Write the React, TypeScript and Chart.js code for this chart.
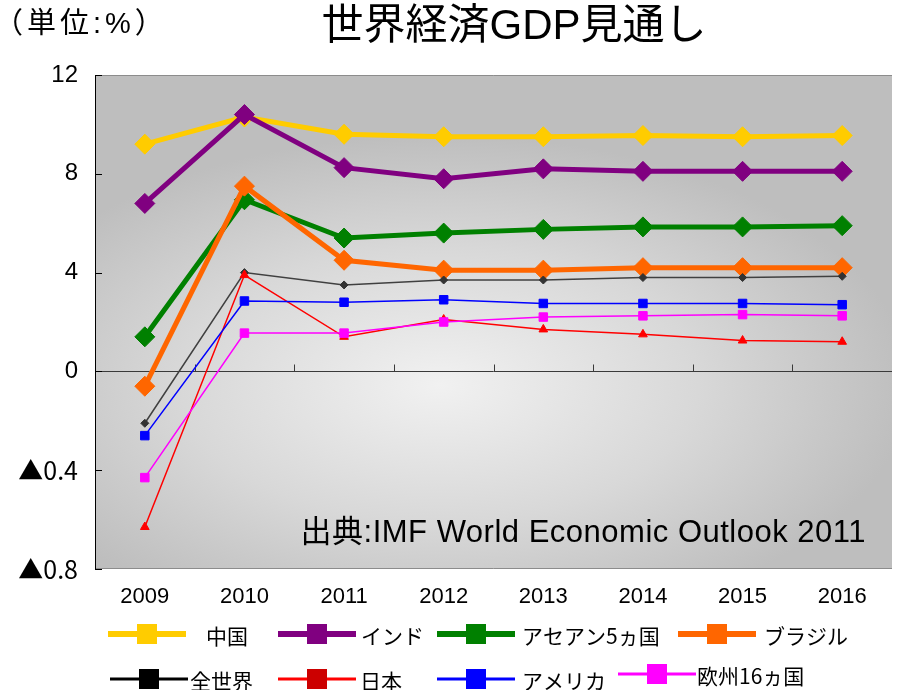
import React, { useEffect, useRef } from "react";
import { Chart, registerables } from "chart.js";

Chart.register(...registerables);

const years = ["2009", "2010", "2011", "2012", "2013", "2014", "2015", "2016"];
const china = [9.2, 10.3, 9.6, 9.5, 9.5, 9.55, 9.5, 9.55];
const india = [6.8, 10.4, 8.25, 7.8, 8.2, 8.1, 8.1, 8.1];
const asean5 = [1.4, 6.95, 5.4, 5.6, 5.75, 5.85, 5.85, 5.9];
const brazil = [-0.6, 7.5, 4.5, 4.1, 4.1, 4.2, 4.2, 4.2];
const world = [-2.1, 4.0, 3.5, 3.7, 3.7, 3.8, 3.8, 3.85];
const japan = [-6.3, 3.9, 1.4, 2.1, 1.7, 1.5, 1.25, 1.2];
const usa = [-2.6, 2.85, 2.8, 2.9, 2.75, 2.75, 2.75, 2.7];
const europe16 = [-4.3, 1.55, 1.55, 2.0, 2.2, 2.25, 2.3, 2.25];

const yTickValues = [-8, -4, 0, 4, 8, 12];
const yTickLabels = ["▲0.8", "▲0.4", "0", "4", "8", "12"];

const seriesNames = ["中国", "インド", "アセアン5ヵ国", "ブラジル", "全世界", "日本", "アメリカ", "欧州16ヵ国"];
const titleText = "世界経済GDP見通し";
const unitText = "（単位:%）";
const sourceText = "出典:IMF World Economic Outlook 2011";

const LATIN = "'Liberation Sans', 'Noto Sans CJK JP', sans-serif";
const JP = "'Noto Sans CJK JP', 'Liberation Sans', sans-serif";

type Style = {
  color: string;
  pointColor: string;
  legendSquare: string;
  legendLine: string;
  width: number;
  legendWidth: number;
  pointStyle: string;
  radius: number;
};

const styles: Style[] = [
  { color: "#FFCC00", pointColor: "#FFCC00", legendSquare: "#FFCC00", legendLine: "#FFCC00", width: 5, legendWidth: 6, pointStyle: "rectRot", radius: 10 },
  { color: "#800080", pointColor: "#800080", legendSquare: "#800080", legendLine: "#800080", width: 5, legendWidth: 6, pointStyle: "rectRot", radius: 10 },
  { color: "#008000", pointColor: "#008000", legendSquare: "#008000", legendLine: "#008000", width: 5, legendWidth: 6, pointStyle: "rectRot", radius: 10 },
  { color: "#FF6600", pointColor: "#FF6600", legendSquare: "#FF6600", legendLine: "#FF6600", width: 5, legendWidth: 6, pointStyle: "rectRot", radius: 10 },
  { color: "#404040", pointColor: "#333333", legendSquare: "#000000", legendLine: "#000000", width: 1.5, legendWidth: 3, pointStyle: "rectRot", radius: 4 },
  { color: "#FF0000", pointColor: "#FF0000", legendSquare: "#CC0000", legendLine: "#FF0000", width: 1.5, legendWidth: 3, pointStyle: "triangle", radius: 5 },
  { color: "#0000FF", pointColor: "#0000FF", legendSquare: "#0000FF", legendLine: "#0000FF", width: 1.5, legendWidth: 3, pointStyle: "rect", radius: 6 },
  { color: "#FF00FF", pointColor: "#FF00FF", legendSquare: "#FF00FF", legendLine: "#FF00FF", width: 1.5, legendWidth: 3, pointStyle: "rect", radius: 6 },
];

// legend layout: line start x, text x, y centre
const legendLayout = [
  { lx: 108, tx: 206, y: 634 },
  { lx: 278, tx: 361, y: 634 },
  { lx: 437, tx: 522, y: 634 },
  { lx: 678, tx: 764, y: 634 },
  { lx: 110, tx: 190, y: 679 },
  { lx: 278, tx: 360, y: 679 },
  { lx: 437, tx: 522, y: 679 },
  { lx: 618, tx: 697, y: 674 },
];

const setSpacing = (ctx: any, v: string) => {
  try { ctx.letterSpacing = v; } catch (e) { /* ignore */ }
};

const decorPlugin = {
  id: "decor",
  beforeDraw(chart: any) {
    const { ctx, chartArea: a } = chart;
    ctx.save();
    const cx = 440, cy = 385;
    const rx = 470, ry = 250;
    ctx.beginPath();
    ctx.rect(a.left, a.top, a.right - a.left, a.bottom - a.top);
    ctx.clip();
    ctx.translate(cx, cy);
    ctx.scale(1, ry / rx);
    const g = ctx.createRadialGradient(0, 0, 0, 0, 0, rx);
    g.addColorStop(0, "#f1f1f1");
    g.addColorStop(0.55, "#d8d8d8");
    g.addColorStop(1, "#bebebe");
    ctx.fillStyle = g;
    ctx.fillRect(-cx - 10, -cy * (rx / ry) - 10, 2000, 4000);
    ctx.restore();
  },
  beforeDatasetsDraw(chart: any) {
    const { ctx, chartArea: a, scales } = chart;
    const x = scales.x, y = scales.y;
    ctx.save();
    ctx.strokeStyle = "#8c8c8c";
    ctx.lineWidth = 1;
    ctx.beginPath();
    ctx.moveTo(a.left, a.top + 0.5);
    ctx.lineTo(a.right, a.top + 0.5);
    ctx.moveTo(a.left, a.bottom - 0.5);
    ctx.lineTo(a.right, a.bottom - 0.5);
    ctx.stroke();
    const y0 = Math.round(y.getPixelForValue(0)) + 0.5;
    ctx.strokeStyle = "#3a3a3a";
    ctx.beginPath();
    ctx.moveTo(a.left, y0);
    ctx.lineTo(a.right, y0);
    for (let i = 1; i < years.length; i++) {
      const px = Math.round(x.getPixelForValue(i - 0.5)) + 0.5;
      ctx.moveTo(px, y0);
      ctx.lineTo(px, y0 - 7);
    }
    ctx.stroke();
    ctx.strokeStyle = "#000";
    ctx.beginPath();
    ctx.moveTo(a.left + 0.5, a.top);
    ctx.lineTo(a.left + 0.5, a.bottom);
    for (const v of yTickValues) {
      const py = Math.round(y.getPixelForValue(v)) + 0.5;
      ctx.moveTo(a.left, py);
      ctx.lineTo(a.left + 7, py);
    }
    ctx.stroke();
    ctx.fillStyle = "#000";
    ctx.font = `31px ${LATIN}`;
    ctx.textAlign = "right";
    ctx.textBaseline = "middle";
    setSpacing(ctx, "0.5px");
    ctx.fillText(sourceText, 866, 533);
    setSpacing(ctx, "0px");
    ctx.restore();
  },
  afterDraw(chart: any) {
    const { ctx } = chart;
    ctx.save();
    ctx.fillStyle = "#000";
    ctx.textBaseline = "middle";
    ctx.textAlign = "center";
    ctx.font = `42px ${LATIN}`;
    ctx.fillText(titleText, 514, 27);
    ctx.textAlign = "left";
    ctx.font = `29px ${LATIN}`;
    setSpacing(ctx, "4px");
    ctx.fillText(unitText, -6, 25);
    setSpacing(ctx, "0px");
    ctx.font = `21px ${JP}`;
    legendLayout.forEach((l, i) => {
      const s = styles[i];
      ctx.strokeStyle = s.legendLine;
      ctx.lineWidth = s.legendWidth;
      ctx.beginPath();
      ctx.moveTo(l.lx, l.y);
      ctx.lineTo(l.lx + 78, l.y);
      ctx.stroke();
      ctx.fillStyle = s.legendSquare;
      ctx.fillRect(l.lx + 29, l.y - 10, 20, 20);
      ctx.fillStyle = "#000";
      ctx.fillText(seriesNames[i], l.tx, l.y + 2);
    });
    ctx.restore();
  },
};

export default function App() {
  const ref = useRef<HTMLCanvasElement | null>(null);
  useEffect(() => {
    if (!ref.current) return;
    const values = [china, india, asean5, brazil, world, japan, usa, europe16];
    const orders = [8, 7, 6, 5, 4, 3, 2, 1];
    const labelFor = (v: number) => {
      const i = yTickValues.indexOf(v);
      return i >= 0 ? yTickLabels[i] : "";
    };
    const chart = new Chart(ref.current, {
      type: "line",
      data: {
        labels: years,
        datasets: values.map((d, i) => ({
          label: seriesNames[i],
          data: d,
          order: orders[i],
          borderColor: styles[i].color,
          borderWidth: styles[i].width,
          backgroundColor: styles[i].pointColor,
          pointBackgroundColor: styles[i].pointColor,
          pointBorderColor: styles[i].pointColor,
          pointBorderWidth: 1,
          pointStyle: styles[i].pointStyle as any,
          pointRadius: styles[i].radius,
          tension: 0,
          fill: false,
        })),
      },
      options: {
        animation: false,
        responsive: true,
        maintainAspectRatio: false,
        layout: { padding: { top: 75, left: 0, right: 0, bottom: 81 } },
        plugins: { legend: { display: false }, tooltip: { enabled: false }, title: { display: false } },
        scales: {
          x: {
            type: "category",
            offset: true,
            grid: { display: false, drawTicks: false },
            border: { display: false },
            ticks: { color: "#000", font: { family: LATIN, size: 22 }, padding: 15, maxRotation: 0, autoSkip: false },
            afterFit: (s: any) => { s.height = 40; },
          },
          y: {
            min: -8,
            max: 12,
            afterBuildTicks: (s: any) => { s.ticks = yTickValues.map((v) => ({ value: v })); },
            grid: { display: false, drawTicks: false },
            border: { display: false },
            ticks: {
              color: "#000",
              font: (c: any) => (c.tick && c.tick.value < 0 ? { family: JP, size: 25 } : { family: LATIN, size: 24 }),
              padding: 17,
              callback: (v: any) => labelFor(Number(v)),
            },
            afterFit: (s: any) => { s.width = 95; },
          },
        },
      } as any,
      plugins: [decorPlugin],
    });
    return () => chart.destroy();
  }, []);
  return (
    <div style={{ position: "fixed", left: 0, top: 0, width: 903, height: 690, background: "#fff" }}>
      <canvas ref={ref} />
    </div>
  );
}
